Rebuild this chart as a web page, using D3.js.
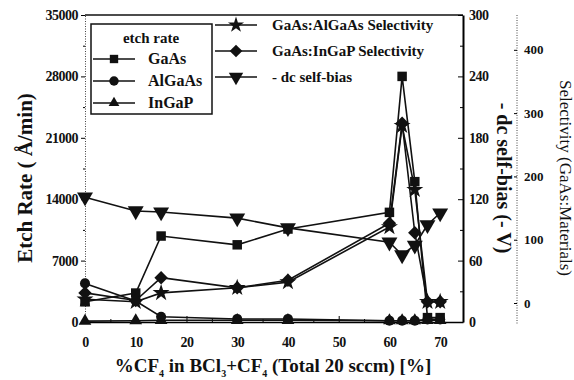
<!DOCTYPE html>
<html>
<head>
<meta charset="utf-8">
<script src="https://cdn.jsdelivr.net/npm/d3@7"></script>
<style>
  body { margin: 0; background: #fff; }
</style>
</head>
<body>
<div id="chart"></div>
<script>
// %CF4 in BCl3+CF4 and the measured values
const xVals = [0, 10, 15, 30, 40, 60, 62.5, 65, 67.5, 70];
const gaasRate = [2300, 3300, 9800, 8800, 10600, 12500, 28000, 16000, 500, 500];
const algaasRate = [4400, 2400, 600, 350, 350, 150, 150, 150, 300, 300];
const ingapRate = [100, 150, 200, 200, 200, 150, 150, 150, 200, 200];
const selAlGaAs = [6, 2, 16, 24, 33, 120, 280, 179, 2, 2];
const selInGaP = [16, 4, 40, 24, 36, 126, 284, 111, 2, 2];
const dcBias = [122, 108.5, 107.5, 101.5, 92, 78, 65.5, 75, 95, 106.5];

const xTicks = [0, 10, 20, 30, 40, 50, 60, 70];
const rateTicks = [0, 7000, 14000, 21000, 28000, 35000];
const biasTicks = [0, 60, 120, 180, 240, 300];
const selTicks = [0, 100, 200, 300, 400];

const FONT = '"Liberation Serif", "Times New Roman", serif';
const W = 574, H = 380;
const margin = { top: 15, right: 111, bottom: 58, left: 85 };
const width = W - margin.left - margin.right;
const height = H - margin.top - margin.bottom;

const svg = d3.select("#chart").append("svg")
  .attr("width", W).attr("height", H);
const g = svg.append("g")
  .attr("transform", `translate(${margin.left},${margin.top})`);

// scales
const x = d3.scaleLinear().domain([0, 74.5]).range([0, width]);
const yRate = d3.scaleLinear().domain([0, 35000]).range([height, 0]);
const yBias = d3.scaleLinear().domain([0, 300]).range([height, 0]);
const ySel = d3.scaleLinear().domain([-30, 455]).range([height, 0]);

const tickFont = sel => sel.selectAll("text")
  .style("font-family", FONT).style("fill", "#111")
  .style("font-size", "14px").style("font-weight", "bold")
  .style("letter-spacing", "-0.5px");

// top frame
g.append("line").attr("x1", 0).attr("x2", width).attr("y1", 0).attr("y2", 0)
  .attr("stroke", "#111").attr("stroke-width", 1.5);

// left axis (dotted)
const gl = g.append("g").call(d3.axisLeft(yRate).tickValues(rateTicks)
  .tickFormat(d3.format("d")).tickSize(4).tickPadding(3));
gl.select(".domain").attr("stroke", "#444").attr("stroke-dasharray", "1,1.5");
tickFont(gl);
g.append("g").call(d3.axisLeft(yRate).tickValues(d3.range(3500, 35000, 7000)).tickSize(2).tickFormat(""))
  .select(".domain").remove();

// bottom axis
const gb = g.append("g").attr("transform", `translate(0,${height})`)
  .call(d3.axisBottom(x).tickValues(xTicks).tickSizeInner(-6).tickSizeOuter(0).tickPadding(15));
gb.select(".domain").attr("stroke-width", 1.5);
tickFont(gb);
g.append("g").attr("transform", `translate(0,${height})`)
  .call(d3.axisBottom(x).tickValues(d3.range(5, 75, 10)).tickSizeInner(-3).tickSizeOuter(0).tickFormat(""))
  .select(".domain").remove();

// right axis: dc self-bias
const gr = g.append("g").attr("transform", `translate(${width},0)`)
  .call(d3.axisRight(yBias).tickValues(biasTicks).tickSizeInner(-5).tickSizeOuter(0).tickPadding(6));
gr.select(".domain").attr("stroke-width", 2);
tickFont(gr);
g.append("g").attr("transform", `translate(${width},0)`)
  .call(d3.axisRight(yBias).tickValues(d3.range(30, 300, 60)).tickSizeInner(-3).tickSizeOuter(0).tickFormat(""))
  .select(".domain").remove();

// far right axis: selectivity (dotted)
const selX = width + 54;
const gs = g.append("g").attr("transform", `translate(${selX},0)`)
  .call(d3.axisRight(ySel).tickValues(selTicks).tickSizeInner(-3).tickSizeOuter(0).tickPadding(7));
gs.select(".domain").attr("stroke", "#444").attr("stroke-dasharray", "1,1.5")
  .attr("d", `M0,0V${height + 3}`);
gs.selectAll("text").style("font-family", FONT).style("fill", "#111")
  .style("font-size", "13px").style("font-weight", "bold");

// series (diamond = square turned 45 degrees)
const line = d3.line().x(d => x(d.x)).y(d => d.y);
const series = [
  { vals: gaasRate, y: yRate, sym: d3.symbolSquare, size: 90, rot: 0 },
  { vals: algaasRate, y: yRate, sym: d3.symbolCircle, size: 80, rot: 0 },
  { vals: ingapRate, y: yRate, sym: d3.symbolTriangle, size: 70, rot: 0 },
  { vals: selAlGaAs, y: ySel, sym: d3.symbolStar, size: 90, rot: 0 },
  { vals: selInGaP, y: ySel, sym: d3.symbolSquare, size: 90, rot: 45 },
  { vals: dcBias, y: yBias, sym: d3.symbolTriangle, size: 110, rot: 180 }
];

series.forEach(s => {
  const pts = s.vals.map((v, i) => ({ x: xVals[i], y: s.y(v) }));
  g.append("path").datum(pts)
    .attr("fill", "none").attr("stroke", "#111").attr("stroke-width", 1.6)
    .attr("d", line);
  g.selectAll(null).data(pts).enter().append("path")
    .attr("transform", d => `translate(${x(d.x)},${d.y}) rotate(${s.rot})`)
    .attr("d", d3.symbol().type(s.sym).size(s.size))
    .attr("fill", "#111");
});

const txt = (sel, size, weight) => sel.style("font-family", FONT)
  .style("font-size", size + "px").style("font-weight", weight || "bold").style("fill", "#111");

// legend: etch rate box
const lg = g.append("g").attr("transform", "translate(6,9)");
lg.append("rect").attr("width", 121).attr("height", 90)
  .attr("fill", "#fff").attr("stroke", "#111").attr("stroke-width", 1.5);
txt(lg.append("text").attr("x", 60).attr("y", 19).attr("text-anchor", "middle"), 15).text("etch rate");
const leftItems = [
  { name: "GaAs", sym: d3.symbolSquare, size: 70, rot: 0 },
  { name: "AlGaAs", sym: d3.symbolCircle, size: 70, rot: 0 },
  { name: "InGaP", sym: d3.symbolTriangle, size: 50, rot: 0 }
];
leftItems.forEach((it, i) => {
  const yy = 35 + i * 22;
  lg.append("line").attr("x1", 2).attr("x2", 44).attr("y1", yy).attr("y2", yy)
    .attr("stroke", "#111").attr("stroke-width", 1.6);
  lg.append("path").attr("transform", `translate(23,${yy})`)
    .attr("d", d3.symbol().type(it.sym).size(it.size)).attr("fill", "#111");
  txt(lg.append("text").attr("x", 57).attr("y", yy + 5), 16).text(it.name);
});

// legend: selectivity and bias
const rightItems = [
  { name: "GaAs:AlGaAs Selectivity", sym: d3.symbolStar, size: 80, rot: 0 },
  { name: "GaAs:InGaP Selectivity", sym: d3.symbolSquare, size: 80, rot: 45 },
  { name: "- dc self-bias", sym: d3.symbolTriangle, size: 90, rot: 180 }
];
rightItems.forEach((it, i) => {
  const yy = 10 + i * 26;
  g.append("line").attr("x1", 130).attr("x2", 172).attr("y1", yy).attr("y2", yy)
    .attr("stroke", "#111").attr("stroke-width", 1.6);
  g.append("path").attr("transform", `translate(151,${yy}) rotate(${it.rot})`)
    .attr("d", d3.symbol().type(it.sym).size(it.size)).attr("fill", "#111");
  txt(g.append("text").attr("x", 187).attr("y", yy + 5), 15).text(it.name);
});

// axis titles
txt(svg.append("text").attr("transform", "translate(32,178) rotate(-90)")
  .attr("text-anchor", "middle"), 21).text("Etch Rate ( Å/min)");

const xt = txt(svg.append("text").attr("x", 273).attr("y", 372).attr("text-anchor", "middle"), 19);
xt.append("tspan").text("%CF");
xt.append("tspan").attr("dy", 5).style("font-size", "10px").text("4");
xt.append("tspan").attr("dy", -5).text(" in BCl");
xt.append("tspan").attr("dy", 5).style("font-size", "10px").text("3");
xt.append("tspan").attr("dy", -5).text("+CF");
xt.append("tspan").attr("dy", 5).style("font-size", "10px").text("4");
xt.append("tspan").attr("dy", -5).text(" (Total 20 sccm) [%]");

txt(svg.append("text").attr("transform", "translate(497,178) rotate(90)")
  .attr("text-anchor", "middle"), 20).text("- dc self-bias (- V)");

txt(svg.append("text").attr("transform", "translate(560,178) rotate(90)")
  .attr("text-anchor", "middle"), 17, "normal").text("Selectivity (GaAs:Materials)");
</script>
</body>
</html>
